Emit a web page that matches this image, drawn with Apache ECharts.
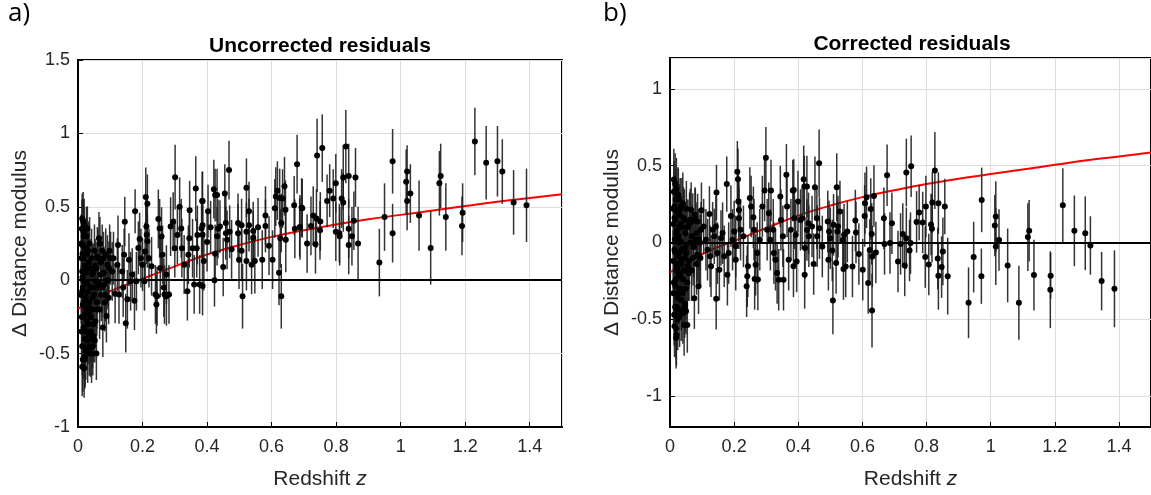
<!DOCTYPE html>
<html><head><meta charset="utf-8">
<script src="https://cdn.jsdelivr.net/npm/echarts@6/dist/echarts.min.js"></script>
<style>html,body{margin:0;padding:0;background:#fff}#c{width:1151px;height:495px}</style>
</head><body><div id="c"></div>
<script>
// ---- data: rows are [redshift z, residual, error] ----
const panelTitles = ['Uncorrected residuals', 'Corrected residuals'];
const panelTags = ['a)', 'b)'];

const uncorrLow = [
[0.013,0.42,0.17],[0.013,0.24,0.2],[0.017,0.33,0.22],[0.019,0.375,0.18],[0.029,0.353,0.15],[0.027,0.22,0.2],[0.017,0.15,0.25],[0.013,0.06,0.2],[0.024,0.083,0.18],[0.017,-0.007,0.2],[0.013,-0.075,0.22],[0.024,-0.12,0.18],[0.015,-0.165,0.2],[0.024,-0.23,0.2],[0.029,-0.28,0.18],[0.017,-0.32,0.22],[0.034,-0.37,0.2],[0.029,-0.41,0.2],[0.015,-0.54,0.22],[0.013,-0.59,0.2],[0.022,-0.525,0.2],[0.044,-0.40,0.2],[0.052,-0.41,0.15],[0.057,-0.50,0.18],[0.042,-0.50,0.2],[0.039,-0.46,0.2],[0.034,-0.19,0.2],[0.039,-0.05,0.2],[0.044,0.038,0.2],[0.050,-0.097,0.18],[0.055,-0.007,0.2],[0.060,-0.05,0.18],[0.065,0.285,0.18],[0.060,0.162,0.2],[0.068,0.25,0.18],[0.070,0.038,0.2],[0.077,-0.323,0.2],[0.088,-0.244,0.18],[0.081,-0.029,0.2],[0.086,0.173,0.18],[0.091,0.106,0.2],[0.096,0.083,0.18],
[0.010,-0.10,0.2],[0.011,0.15,0.22],[0.012,-0.25,0.2],[0.014,0.02,0.2],[0.016,-0.45,0.22],[0.018,0.30,0.2],[0.020,-0.15,0.2],[0.021,0.10,0.18],[0.023,-0.35,0.2],[0.025,0.05,0.2],[0.026,-0.20,0.22],[0.028,0.18,0.2],[0.030,-0.08,0.2],[0.031,-0.30,0.2],[0.033,0.12,0.2],[0.035,-0.15,0.2],[0.036,0.25,0.18],[0.038,-0.05,0.2],[0.040,-0.25,0.2],[0.045,-0.12,0.18],[0.047,0.05,0.2],[0.048,-0.30,0.2],[0.053,0.10,0.18],[0.058,-0.20,0.18],[0.062,0.15,0.2],[0.072,-0.10,0.18],[0.075,0.20,0.18],[0.080,0.05,0.18],[0.083,-0.15,0.2],[0.093,0.00,0.18],[0.047,-0.38,0.18],[0.045,-0.40,0.2],[0.021,-0.54,0.2],
[0.010,0.25,0.2],[0.011,-0.35,0.22],[0.012,0.35,0.2],[0.013,-0.45,0.2],[0.014,0.18,0.2],[0.015,-0.05,0.2],[0.016,0.40,0.2],[0.018,-0.25,0.22],[0.019,-0.60,0.2],[0.020,0.05,0.2],[0.021,-0.40,0.2],[0.022,0.22,0.2],[0.023,-0.18,0.2],[0.024,-0.48,0.2],[0.026,0.30,0.2],[0.027,-0.35,0.2],[0.028,-0.02,0.2],[0.030,-0.50,0.2],[0.032,0.20,0.2],[0.033,-0.22,0.2],[0.035,-0.45,0.2],[0.037,0.08,0.2],[0.040,-0.35,0.2],[0.042,0.15,0.2],[0.043,-0.20,0.2],[0.046,-0.45,0.2],[0.049,-0.05,0.2],[0.051,0.20,0.18],[0.054,-0.28,0.18],[0.056,0.08,0.18],[0.059,-0.15,0.18],[0.064,-0.02,0.18],[0.067,-0.20,0.2],[0.071,0.12,0.18],[0.074,-0.05,0.18],[0.079,0.15,0.18],[0.085,-0.10,0.18],[0.090,0.00,0.2],[0.095,-0.12,0.18],[0.098,0.20,0.18]
];
const uncorrMid = [
[0.101,0.15,0.18],[0.106,0.06,0.2],[0.115,-0.093,0.2],[0.110,0.15,0.18],[0.124,0.24,0.2],[0.122,0.106,0.18],[0.127,-0.097,0.2],[0.137,0.06,0.18],[0.143,0.173,0.18],[0.145,0.399,0.17],[0.148,-0.293,0.2],[0.140,-0.05,0.2],[0.153,-0.13,0.2],[0.158,0.14,0.18],[0.163,-0.007,0.2],[0.168,0.038,0.18],[0.177,0.47,0.15],[0.175,-0.14,0.2],[0.181,-0.007,0.2],[0.187,0.22,0.18],[0.191,0.28,0.18],[0.195,0.15,0.2],[0.200,0.106,0.18],[0.208,0.195,0.2],[0.210,0.567,0.2],[0.212,0.365,0.2],[0.213,0.31,0.2],[0.215,0.265,0.18],[0.206,-0.007,0.2],[0.220,0.15,0.2],[0.228,0.095,0.2],[0.240,-0.097,0.2],[0.243,-0.165,0.2],[0.249,0.417,0.2],[0.253,0.353,0.2],[0.259,0.297,0.2],[0.255,0.083,0.2],[0.266,-0.05,0.2],[0.268,-0.097,0.2],[0.262,0.173,0.2],[0.274,0.038,0.2],[0.282,-0.097,0.2],[0.287,0.365,0.2],[0.295,0.399,0.2],[0.301,0.702,0.22],[0.300,0.218,0.2],[0.308,0.308,0.2],[0.315,0.5,0.2],[0.322,0.218,0.2],[0.320,0.353,0.2],[0.329,0.106,0.2],[0.339,-0.075,0.2],[0.342,0.173,0.2],[0.346,0.477,0.2],[0.345,0.286,0.2],[0.355,0.218,0.2],[0.360,-0.029,0.2],[0.365,0.624,0.22],[0.370,0.308,0.2],[0.368,0.218,0.2],[0.377,-0.029,0.2],[0.385,0.539,0.2],[0.383,0.353,0.2],
[0.215,0.52,0.2],[0.245,-0.11,0.2],[0.274,-0.11,0.2],
[0.386,0.54,0.2],[0.386,0.375,0.18],[0.386,0.31,0.2],[0.39,0.13,0.2],[0.386,-0.04,0.2],[0.403,0.47,0.18],[0.40,0.26,0.2],[0.411,0.36,0.18],[0.421,0.62,0.2],[0.425,0.58,0.18],[0.425,0.18,0.2],[0.423,0.0,0.18],[0.431,0.58,0.18],[0.431,0.30,0.2],[0.434,0.35,0.2],[0.44,0.365,0.18],[0.45,0.09,0.2],[0.455,0.59,0.2],[0.458,0.39,0.2],[0.458,0.32,0.18],[0.462,0.275,0.2],[0.468,0.75,0.2],[0.47,0.33,0.18],[0.476,0.21,0.2],[0.496,0.39,0.2],[0.496,0.32,0.2],[0.499,0.14,0.2],[0.507,0.375,0.18],[0.507,0.20,0.2],[0.51,-0.11,0.22],[0.522,0.63,0.2],[0.522,0.33,0.2],[0.522,0.13,0.2],[0.53,0.47,0.2],[0.53,0.375,0.18],[0.538,0.105,0.2],[0.543,0.335,0.2],[0.543,0.29,0.18],[0.548,0.13,0.22],[0.558,0.36,0.2],[0.571,0.14,0.2],[0.581,0.44,0.2],[0.581,0.37,0.18],[0.592,0.235,0.2],[0.603,0.14,0.2],[0.61,0.49,0.2],[0.613,0.57,0.2],[0.618,0.61,0.2],[0.625,0.56,0.2],[0.623,0.05,0.22],[0.627,0.285,0.2],[0.63,-0.11,0.22],[0.63,0.39,0.2],[0.634,0.556,0.2],[0.64,0.64,0.2],[0.643,0.48,0.2],[0.644,0.275,0.22],[0.67,0.51,0.2],[0.672,0.35,0.2],[0.679,0.79,0.2],[0.687,0.36,0.2],[0.695,0.49,0.2]
];
const uncorrHigh = [
[0.693,0.495,0.2],[0.688,0.36,0.22],[0.710,0.25,0.2],[0.722,0.37,0.2],[0.729,0.44,0.2],[0.736,0.245,0.2],[0.739,0.42,0.2],[0.741,0.85,0.25],[0.75,0.34,0.2],[0.751,0.40,0.2],[0.757,0.90,0.23],[0.772,0.54,0.18],[0.78,0.61,0.18],[0.791,0.556,0.2],[0.799,0.66,0.2],[0.799,0.33,0.2],[0.81,0.32,0.2],[0.811,0.30,0.2],[0.817,0.556,0.2],[0.822,0.70,0.22],[0.822,0.53,0.2],[0.83,0.91,0.25],[0.839,0.71,0.22],[0.839,0.35,0.2],[0.839,0.24,0.2],[0.849,0.30,0.2],[0.855,0.405,0.2],[0.86,0.70,0.2],[0.868,0.25,0.25],[0.934,0.12,0.23],[0.95,0.43,0.23],[0.975,0.81,0.22],[0.975,0.32,0.2],[1.017,0.67,0.22],[1.02,0.74,0.18],[1.02,0.54,0.2],[1.03,0.59,0.2],[1.057,0.44,0.24],[1.093,0.22,0.25],[1.12,0.66,0.22],[1.124,0.71,0.22],[1.14,0.43,0.23],[1.19,0.37,0.2],[1.192,0.46,0.2],[1.23,0.945,0.23],[1.265,0.80,0.25],[1.30,0.81,0.24],[1.315,0.74,0.22],[1.35,0.53,0.22],[1.39,0.51,0.25]
];
const corrLow = [
[0.012,0.41,0.2],[0.020,0.35,0.2],[0.025,0.31,0.18],[0.014,0.234,0.2],[0.027,0.212,0.2],[0.017,0.147,0.2],[0.030,0.104,0.2],[0.023,0.04,0.2],[0.033,0.007,0.2],[0.014,-0.047,0.22],[0.025,-0.09,0.2],[0.035,-0.112,0.2],[0.020,-0.177,0.2],[0.030,-0.22,0.2],[0.017,-0.285,0.2],[0.025,-0.329,0.2],[0.035,-0.372,0.2],[0.023,-0.437,0.2],[0.014,-0.545,0.2],[0.020,-0.60,0.2],[0.040,-0.458,0.2],[0.050,-0.447,0.15],[0.054,-0.537,0.18],[0.044,-0.537,0.2],[0.040,0.255,0.2],[0.045,0.147,0.2],[0.050,-0.069,0.2],[0.056,-0.155,0.2],[0.058,-0.177,0.2],[0.066,0.212,0.18],[0.061,0.126,0.2],[0.068,0.04,0.2],[0.074,-0.025,0.2],[0.076,-0.362,0.2],[0.089,-0.285,0.18],[0.084,0.061,0.2],[0.086,0.137,0.18],[0.092,-0.09,0.2],[0.097,0.083,0.18],
[0.010,-0.12,0.2],[0.011,0.12,0.22],[0.012,-0.26,0.2],[0.015,0.02,0.2],[0.016,-0.42,0.22],[0.018,0.28,0.2],[0.021,-0.14,0.2],[0.022,0.08,0.18],[0.024,-0.36,0.2],[0.026,0.04,0.2],[0.027,-0.20,0.22],[0.029,0.18,0.2],[0.031,-0.06,0.2],[0.032,-0.30,0.2],[0.034,0.12,0.2],[0.036,-0.14,0.2],[0.037,0.24,0.18],[0.038,-0.04,0.2],[0.041,-0.24,0.2],[0.046,-0.10,0.18],[0.048,0.06,0.2],[0.049,-0.30,0.2],[0.053,0.10,0.18],[0.059,-0.20,0.18],[0.063,0.15,0.2],[0.072,-0.10,0.18],[0.078,0.18,0.18],[0.081,0.02,0.18],[0.083,-0.14,0.2],[0.094,0.00,0.18],[0.047,-0.40,0.18],[0.019,-0.56,0.2],
[0.010,0.22,0.2],[0.011,-0.33,0.22],[0.012,0.33,0.2],[0.013,-0.47,0.2],[0.014,0.16,0.2],[0.015,-0.06,0.2],[0.016,0.38,0.2],[0.018,-0.24,0.22],[0.019,-0.62,0.2],[0.020,0.06,0.2],[0.021,-0.42,0.2],[0.022,0.20,0.2],[0.023,-0.16,0.2],[0.024,-0.50,0.2],[0.026,0.28,0.2],[0.027,-0.33,0.2],[0.028,0.00,0.2],[0.030,-0.48,0.2],[0.032,0.22,0.2],[0.033,-0.20,0.2],[0.035,-0.44,0.2],[0.037,0.10,0.2],[0.040,-0.33,0.2],[0.042,0.16,0.2],[0.043,-0.18,0.2],[0.046,-0.42,0.2],[0.049,-0.03,0.2],[0.051,0.22,0.18],[0.054,-0.26,0.18],[0.056,0.10,0.18],[0.059,-0.12,0.18],[0.064,0.00,0.18],[0.067,-0.18,0.2],[0.071,0.14,0.18],[0.074,-0.03,0.18],[0.079,0.17,0.18],[0.085,-0.08,0.18],[0.090,0.02,0.2],[0.095,-0.10,0.18],[0.098,0.21,0.18]
];
const corrMid = [
[0.105,0.104,0.18],[0.112,0.018,0.2],[0.117,-0.047,0.2],[0.123,0.186,0.18],[0.125,-0.09,0.2],[0.128,-0.155,0.2],[0.133,0.083,0.18],[0.138,0.04,0.18],[0.143,0.104,0.2],[0.145,0.325,0.18],[0.144,-0.366,0.2],[0.148,-0.069,0.2],[0.154,-0.177,0.2],[0.159,0.029,0.18],[0.164,0.061,0.2],[0.169,-0.09,0.2],[0.177,0.38,0.18],[0.179,-0.21,0.2],[0.183,-0.069,0.2],[0.19,0.173,0.2],[0.195,0.018,0.2],[0.2,0.072,0.2],[0.205,-0.025,0.2],[0.21,0.46,0.2],[0.212,0.411,0.2],[0.213,0.266,0.2],[0.215,0.212,0.18],[0.215,0.158,0.2],[0.205,-0.112,0.2],[0.22,0.083,0.2],[0.229,0.04,0.2],[0.239,-0.285,0.2],[0.241,-0.22,0.2],[0.243,-0.155,0.2],[0.249,0.29,0.2],[0.253,0.234,0.2],[0.26,0.164,0.2],[0.262,0.083,0.2],[0.264,-0.237,0.2],[0.267,-0.145,0.2],[0.272,-0.069,0.2],[0.274,-0.24,0.2],[0.28,0.018,0.2],[0.288,0.234,0.2],[0.295,0.338,0.2],[0.299,0.552,0.2],[0.303,0.083,0.2],[0.308,0.191,0.2],[0.313,0.018,0.2],[0.315,0.338,0.2],[0.322,0.083,0.2],[0.324,-0.069,0.2],[0.329,-0.112,0.2],[0.334,-0.199,0.2],[0.339,-0.242,0.2],[0.344,0.299,0.2],[0.346,0.147,0.2],[0.352,0.04,0.2],[0.354,-0.242,0.2],[0.363,0.44,0.2],[0.365,0.234,0.2],[0.37,-0.112,0.2],[0.377,0.083,0.2],[0.383,0.338,0.2],[0.385,-0.155,0.2],
[0.386,0.342,0.2],[0.388,0.158,0.2],[0.392,0.05,0.2],[0.395,-0.123,0.2],[0.399,0.266,0.2],[0.407,0.147,0.2],[0.412,0.158,0.2],[0.417,0.411,0.22],[0.419,0.364,0.2],[0.42,-0.21,0.22],[0.421,-0.036,0.2],[0.427,0.364,0.2],[0.427,0.082,0.2],[0.432,0.125,0.2],[0.433,0.04,0.2],[0.443,0.104,0.2],[0.448,-0.14,0.2],[0.452,0.36,0.2],[0.458,0.158,0.2],[0.459,0.04,0.2],[0.465,0.515,0.22],[0.466,0.093,0.2],[0.475,-0.026,0.2],[0.492,0.136,0.2],[0.494,-0.112,0.2],[0.496,0.071,0.2],[0.5,0.028,0.2],[0.506,-0.052,0.2],[0.508,-0.377,0.22],[0.51,0.115,0.2],[0.518,-0.134,0.2],[0.52,0.36,0.22],[0.522,0.071,0.2],[0.524,0.104,0.2],[0.53,0.201,0.2],[0.539,0.017,0.2],[0.541,-0.173,0.2],[0.543,0.05,0.2],[0.548,-0.156,0.2],[0.553,0.071,0.2],[0.569,-0.156,0.2],[0.578,0.143,0.2],[0.58,0.065,0.2],[0.589,-0.074,0.2],[0.601,-0.177,0.2],[0.607,0.173,0.2],[0.608,0.255,0.2],[0.613,0.294,0.2],[0.618,-0.264,0.2],[0.623,-0.048,0.2],[0.626,0.218,0.2],[0.629,0.056,0.2],[0.63,-0.443,0.24],[0.631,-0.091,0.2],[0.636,0.303,0.2],[0.642,-0.065,0.2],[0.667,0.158,0.2],[0.669,-0.009,0.2],[0.677,0.437,0.2],[0.686,-0.004,0.2],[0.692,0.125,0.2]
];
const corrHigh = [
[0.711,-0.123,0.2],[0.719,-0.009,0.2],[0.726,0.055,0.2],[0.732,-0.149,0.2],[0.737,0.455,0.22],[0.737,0.028,0.2],[0.747,-0.052,0.2],[0.75,-0.004,0.2],[0.752,0.496,0.2],[0.769,0.134,0.2],[0.777,0.195,0.18],[0.788,0.13,0.2],[0.796,-0.095,0.2],[0.798,0.234,0.2],[0.807,-0.143,0.2],[0.814,0.117,0.2],[0.817,0.09,0.22],[0.818,0.26,0.2],[0.826,0.468,0.25],[0.837,0.256,0.2],[0.835,-0.104,0.2],[0.837,-0.217,0.22],[0.847,-0.16,0.2],[0.851,-0.058,0.22],[0.857,0.234,0.18],[0.866,-0.219,0.25],[0.931,-0.392,0.23],[0.947,-0.095,0.23],[0.972,0.277,0.21],[0.971,-0.219,0.18],[1.013,0.11,0.2],[1.016,0.169,0.23],[1.016,-0.026,0.25],[1.026,0.017,0.2],[1.053,-0.149,0.24],[1.088,-0.392,0.24],[1.116,0.035,0.22],[1.12,0.076,0.2],[1.135,-0.212,0.23],[1.186,-0.307,0.25],[1.187,-0.217,0.15],[1.225,0.243,0.24],[1.261,0.076,0.23],[1.295,0.06,0.24],[1.311,-0.019,0.19],[1.346,-0.251,0.19],[1.386,-0.301,0.25]
];
// red model curve [z, residual]
const redCurve = [[0,-0.195],[0.05,-0.13],[0.1,-0.075],[0.15,-0.03],[0.2,0.01],[0.3,0.094],[0.4,0.175],[0.5,0.24],[0.6,0.295],[0.7,0.34],[0.8,0.38],[0.9,0.415],[1.0,0.445],[1.1,0.475],[1.2,0.505],[1.3,0.535],[1.4,0.56],[1.5,0.585]];

const panelA = uncorrLow.concat(uncorrMid, uncorrHigh);
const panelB = corrLow.concat(corrMid, corrHigh);

// ---- chart ----
const FONT = '"Liberation Sans", Arial, sans-serif';
const TXT = '#262626';
const chart = echarts.init(document.getElementById('c'), null, {renderer: 'canvas'});

function fmt(v) { return String(+v.toFixed(1)); }
function xAxisDef(idx) {
  return {
    type: 'value', gridIndex: idx, min: 0, max: 1.5, interval: 0.2,
    name: 'Redshift {i|z}', nameLocation: 'middle', nameGap: 42,
    nameTextStyle: {fontFamily: FONT, fontSize: 21, color: TXT, rich: {i: {fontStyle: 'italic', fontFamily: FONT, fontSize: 21, color: TXT}}},
    axisLine: {show: true, onZero: false, lineStyle: {color: '#000', width: 2}},
    axisTick: {show: true, inside: true, length: 5, lineStyle: {color: '#000', width: 1}},
    axisLabel: {show: true, showMaxLabel: false, margin: 11, fontFamily: FONT, fontSize: 18, color: TXT, formatter: fmt},
    splitLine: {show: true, lineStyle: {color: '#dcdcdc', width: 1}}
  };
}
function yAxisDef(idx, extra, labelExtra) {
  return Object.assign({
    type: 'value', gridIndex: idx,
    name: 'Δ Distance modulus', nameLocation: 'middle', nameGap: 47,
    nameTextStyle: {fontFamily: FONT, fontSize: 21, color: TXT},
    axisLine: {show: true, onZero: false, lineStyle: {color: '#000', width: 2}},
    axisTick: {show: true, inside: true, length: 5, lineStyle: {color: '#000', width: 1}},
    axisLabel: Object.assign({show: true, margin: 8, fontFamily: FONT, fontSize: 18, color: TXT, formatter: fmt}, labelExtra || {}),
    splitLine: {show: true, lineStyle: {color: '#dcdcdc', width: 1}}
  }, extra);
}
function errSeries(data, idx) {
  return {
    type: 'custom', xAxisIndex: idx, yAxisIndex: idx, silent: true, z: 3,
    encode: {x: 0, y: [1, 2]},
    data: data.map(d => [d[0], d[1] - d[2], d[1] + d[2]]),
    renderItem: (params, api) => {
      const p1 = api.coord([api.value(0), api.value(1)]);
      const p2 = api.coord([api.value(0), api.value(2)]);
      return {type: 'line', shape: {x1: p1[0], y1: p1[1], x2: p2[0], y2: p2[1]},
        style: {stroke: 'rgba(30,30,30,0.9)', lineWidth: 1.5}};
    }
  };
}
function dotSeries(data, idx) {
  return {type: 'scatter', xAxisIndex: idx, yAxisIndex: idx, silent: true, z: 4,
    symbol: 'circle', symbolSize: 6, itemStyle: {color: '#000', opacity: 1},
    data: data.map(d => [d[0], d[1]])};
}
function redSeries(idx) {
  return {type: 'line', xAxisIndex: idx, yAxisIndex: idx, silent: true, z: 2,
    smooth: true, showSymbol: false, symbol: 'none',
    lineStyle: {color: '#ff0000', width: 2}, data: redCurve,
    markLine: {silent: true, symbol: 'none', label: {show: false},
      lineStyle: {color: '#000', width: 2, type: 'solid'}, data: [{yAxis: 0}]}};
}

const option = {
  animation: false,
  backgroundColor: '#fff',
  grid: [
    {left: 78, top: 60, width: 484, height: 370, show: true, borderColor: '#000', borderWidth: 2, backgroundColor: 'transparent'},
    {left: 670, top: 58, width: 485, height: 369, show: true, borderColor: '#000', borderWidth: 2, backgroundColor: 'transparent'}
  ],
  xAxis: [xAxisDef(0), xAxisDef(1)],
  yAxis: [
    yAxisDef(0, {min: -1, max: 1.5, interval: 0.5}),
    yAxisDef(1, {min: -1.2, max: 1.2, splitNumber: 5}, {showMinLabel: false, showMaxLabel: false})
  ],
  series: [
    redSeries(0), errSeries(panelA, 0), dotSeries(panelA, 0),
    redSeries(1), errSeries(panelB, 1), dotSeries(panelB, 1)
  ],
  graphic: [
    {type: 'text', x: 8, y: 1, style: {text: panelTags[0], font: '26px "Open Sans", "Noto Sans", sans-serif', fill: '#000'}},
    {type: 'text', x: 603, y: 1, style: {text: panelTags[1], font: '26px "Open Sans", "Noto Sans", sans-serif', fill: '#000'}},
    {type: 'text', x: 320, y: 46, style: {text: panelTitles[0], font: 'bold 21px ' + FONT, fill: '#000', textAlign: 'center', textVerticalAlign: 'middle'}},
    {type: 'text', x: 912, y: 44, style: {text: panelTitles[1], font: 'bold 21px ' + FONT, fill: '#000', textAlign: 'center', textVerticalAlign: 'middle'}}
  ]
};
chart.setOption(option);
</script>
</body></html>
